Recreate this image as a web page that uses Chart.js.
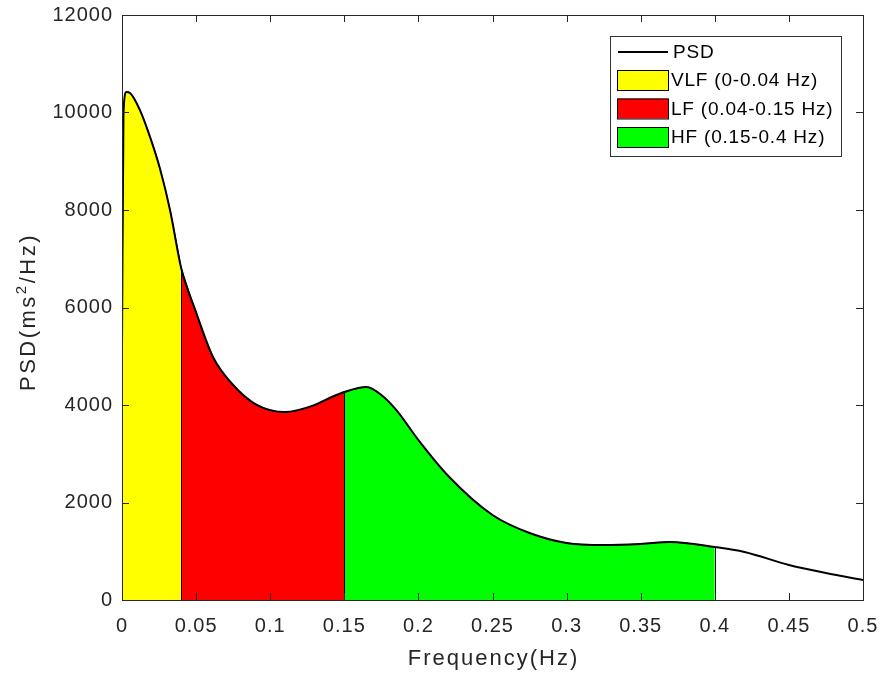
<!DOCTYPE html>
<html>
<head>
<meta charset="utf-8">
<script src="https://cdn.jsdelivr.net/npm/chart.js@4"></script>
<style>
  html, body { margin: 0; padding: 0; background: #fff; }
  #wrap { width: 881px; height: 677px; }
</style>
</head>
<body>
<div id="wrap"><canvas id="psdChart" width="881" height="677"></canvas></div>
<script>
// ---------- DATA ----------
const freq = [0, 0.001, 0.003, 0.0054, 0.0121, 0.0189, 0.0256, 0.0324, 0.04,
  0.05, 0.0614, 0.075, 0.09, 0.11, 0.13, 0.14, 0.15, 0.165, 0.175, 0.185,
  0.2, 0.22, 0.25, 0.275, 0.3, 0.325, 0.35, 0.37, 0.4, 0.42, 0.45, 0.475, 0.5];
const psd = [5200, 10000, 10420, 10400, 10050, 9500, 8850, 8000, 6800,
  5900, 4985, 4410, 4020, 3856, 4000, 4143, 4267, 4370, 4205, 3900,
  3282, 2550, 1744, 1375, 1170, 1128, 1150, 1190, 1087, 985, 718, 554, 410];

const bandNames = ["VLF (0-0.04 Hz)", "LF (0.04-0.15 Hz)", "HF (0.15-0.4 Hz)"];
const bandLimits = [[0, 0.04], [0.04, 0.15], [0.15, 0.4]];
const bandColors = ["#ffff00", "#ff0000", "#00ff00"];

const xTicks = [0, 0.05, 0.1, 0.15, 0.2, 0.25, 0.3, 0.35, 0.4, 0.45, 0.5];
const yTicks = [0, 2000, 4000, 6000, 8000, 10000, 12000];

const textColor = "#262626";
const font = "'Liberation Sans', Arial, sans-serif";

// ---------- DATASETS ----------
const curve = freq.map((f, i) => ({x: f, y: psd[i]}));

const datasets = bandNames.map((name, i) => ({
  label: name,
  data: curve.filter(p => p.x >= bandLimits[i][0] && p.x <= bandLimits[i][1]),
  backgroundColor: bandColors[i],
  borderColor: "#000",
  borderWidth: 1,
  pointRadius: 0,
  fill: "origin",
  cubicInterpolationMode: "monotone",
  order: 1
}));
datasets.push({
  label: "PSD",
  data: curve,
  borderColor: "#000",
  borderWidth: 2,
  pointRadius: 0,
  fill: false,
  cubicInterpolationMode: "monotone",
  order: 0
});

// ---------- FRAME, TICKS, TITLES, LEGEND ----------
const framePlugin = {
  id: "frame",
  beforeDraw(chart){
    chart.ctx.letterSpacing = "1px";
  },
  afterDatasetsDraw(chart){
    // black edges of the band patches
    const {ctx, scales: {x, y}} = chart;
    ctx.save();
    ctx.strokeStyle = "#000";
    ctx.lineWidth = 1;
    ctx.beginPath();
    bandLimits.forEach(([lo, hi]) => {
      [lo, hi].forEach(f => {
        const i = freq.indexOf(f);
        if (f === 0 || i < 0) return;
        const px = Math.round(x.getPixelForValue(f)) + 0.5;
        ctx.moveTo(px, y.getPixelForValue(0));
        ctx.lineTo(px, y.getPixelForValue(psd[i]));
      });
    });
    ctx.stroke();
    ctx.restore();
  },
  afterDraw(chart){
    const {ctx, chartArea: a, scales: {x, y}} = chart;
    ctx.save();
    ctx.strokeStyle = textColor;
    ctx.lineWidth = 1;
    ctx.strokeRect(a.left + 0.5, a.top + 0.5, a.right - a.left, a.bottom - a.top);
    ctx.beginPath();
    xTicks.forEach(v => {
      const px = Math.round(x.getPixelForValue(v)) + 0.5;
      ctx.moveTo(px, a.bottom); ctx.lineTo(px, a.bottom - 7);
      ctx.moveTo(px, a.top); ctx.lineTo(px, a.top + 7);
    });
    yTicks.forEach(v => {
      const py = Math.round(y.getPixelForValue(v)) + 0.5;
      ctx.moveTo(a.left, py); ctx.lineTo(a.left + 7, py);
      ctx.moveTo(a.right, py); ctx.lineTo(a.right - 7, py);
    });
    ctx.stroke();

    // axis titles
    ctx.fillStyle = textColor;
    ctx.textBaseline = "alphabetic";
    ctx.letterSpacing = "2px";
    ctx.font = "22px " + font;
    ctx.textAlign = "center";
    ctx.fillText("Frequency(Hz)", (a.left + a.right) / 2 + 1, 665);

    ctx.save();
    ctx.translate(35, 312);
    ctx.rotate(-Math.PI / 2);
    ctx.textAlign = "left";
    ctx.letterSpacing = "2.5px";
    const pre = "PSD(ms", sup = "2", post = "/Hz)";
    ctx.font = "22px " + font;
    const w1 = ctx.measureText(pre).width;
    const w3 = ctx.measureText(post).width;
    ctx.font = "15px " + font;
    const w2 = ctx.measureText(sup).width;
    let tx = -(w1 + w2 + w3) / 2;
    ctx.font = "22px " + font;
    ctx.fillText(pre, tx, 0);
    ctx.font = "15px " + font;
    ctx.fillText(sup, tx + w1, -9);
    ctx.font = "22px " + font;
    ctx.fillText(post, tx + w1 + w2, 0);
    ctx.restore();

    // legend box
    const lx = 610, ly = 36, lw = 231, lh = 120;
    ctx.fillStyle = "#fff";
    ctx.fillRect(lx, ly, lw, lh);
    ctx.strokeStyle = "#333";
    ctx.lineWidth = 1;
    ctx.strokeRect(lx + 0.5, ly + 0.5, lw, lh);
    ctx.font = "19px " + font;
    ctx.letterSpacing = "0.8px";
    ctx.textAlign = "left";
    ctx.textBaseline = "middle";
    ctx.fillStyle = "#000";
    ctx.strokeStyle = "#000";
    ctx.lineWidth = 2;
    ctx.beginPath();
    ctx.moveTo(618, 52); ctx.lineTo(668, 52);
    ctx.stroke();
    ctx.fillText("PSD", 673, 53);
    bandNames.forEach((name, i) => {
      const cy = 80 + i * 28.5;
      ctx.fillStyle = bandColors[i];
      ctx.fillRect(617, cy - 10, 51, 20);
      ctx.lineWidth = 1;
      ctx.strokeRect(617.5, cy - 9.5, 51, 20);
      ctx.fillStyle = "#000";
      ctx.fillText(name, 671, cy + 1);
    });
    ctx.restore();
  }
};

new Chart(document.getElementById("psdChart"), {
  type: "line",
  data: {datasets},
  plugins: [framePlugin],
  options: {
    responsive: false,
    animation: false,
    layout: {padding: {top: 15, right: 18, left: 0, bottom: 0}},
    plugins: {legend: {display: false}, tooltip: {enabled: false}},
    scales: {
      x: {
        type: "linear", min: 0, max: 0.5,
        afterBuildTicks: s => { s.ticks = xTicks.map(v => ({value: v})); },
        afterFit: s => { s.height = 77; s.paddingLeft = 0; s.paddingRight = 0; },
        grid: {display: false, drawTicks: false},
        border: {display: false},
        ticks: {
          color: textColor, font: {size: 20, family: font}, padding: 14,
          maxRotation: 0,
          callback: v => String(parseFloat(v.toFixed(2)))
        }
      },
      y: {
        min: 0, max: 12000,
        afterBuildTicks: s => { s.ticks = yTicks.map(v => ({value: v})); },
        afterFit: s => { s.width = 122; s.paddingTop = 0; s.paddingBottom = 0; },
        grid: {display: false, drawTicks: false},
        border: {display: false},
        ticks: {
          color: textColor, font: {size: 20, family: font}, padding: 9,
          callback: v => String(v)
        }
      }
    }
  }
});
</script>
</body>
</html>
